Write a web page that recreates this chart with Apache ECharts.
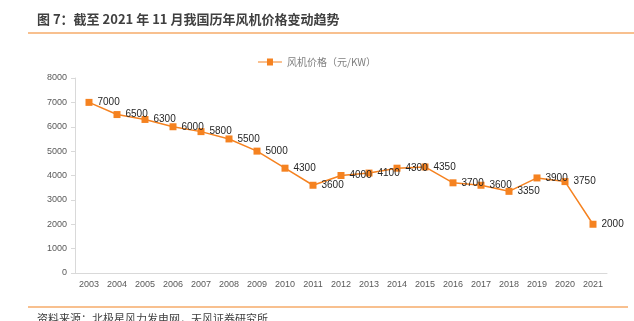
<!DOCTYPE html>
<html><head><meta charset="utf-8">
<script src="https://cdn.jsdelivr.net/npm/echarts@6/dist/echarts.min.js"></script>
<style>html,body{margin:0;padding:0;background:#fff}#c{width:634px;height:321px}</style>
</head><body><div id="c"></div>
<script>
const years = ['2003','2004','2005','2006','2007','2008','2009','2010','2011','2012','2013','2014','2015','2016','2017','2018','2019','2020','2021'];
const prices = [7000,6500,6300,6000,5800,5500,5000,4300,3600,4000,4100,4300,4350,3700,3600,3350,3900,3750,2000];
const seriesName = '风机价格（元/KW）';
const titleText = '图 7：截至 2021 年 11 月我国历年风机价格变动趋势';
const sourceText = '资料来源：北极星风力发电网，天风证券研究所';
const chart = echarts.init(document.getElementById('c'));
const font = '"Liberation Sans", "Noto Sans CJK SC", sans-serif';
chart.setOption({
  animation:false,
  textStyle:{fontFamily:font},
  graphic:[
    {type:'text',left:37,top:13,style:{text:titleText,font:'bold 13px "Noto Sans CJK SC", sans-serif',fill:'#404040'}},
    {type:'rect',shape:{x:28,y:32,width:606,height:2},style:{fill:'#f8c08f'}},
    {type:'rect',shape:{x:28,y:306,width:600,height:2},style:{fill:'#f8c08f'}},
    {type:'text',left:37,top:313,style:{text:sourceText,font:'11px "Noto Sans CJK SC", sans-serif',fill:'#404040'}}
  ],
  legend:{top:52,left:'center',itemWidth:24,itemHeight:7,icon:'path://M0,3L9,3L9,0L15,0L15,3L24,3L24,4L15,4L15,7L9,7L9,4L0,4Z',
    textStyle:{fontSize:10,color:'#7f7f7f',fontFamily:'"Noto Sans CJK SC", sans-serif'},data:[seriesName]},
  grid:{left:75,right:27,top:78,bottom:48},
  xAxis:{type:'category',data:years,boundaryGap:true,
    axisLine:{lineStyle:{color:'#d9d9d9'}},axisTick:{show:false},
    axisLabel:{fontSize:9,color:'#595959',margin:7,interval:0}},
  yAxis:{type:'value',min:0,max:8000,interval:1000,
    axisLine:{show:true,lineStyle:{color:'#d9d9d9'}},axisTick:{show:true,length:4,lineStyle:{color:'#d9d9d9'}},
    splitLine:{show:false},axisLabel:{fontSize:9,color:'#595959',margin:8,formatter:v=>String(v)}},
  series:[{name:seriesName,type:'line',data:prices,symbol:'rect',symbolSize:7,
    lineStyle:{color:'#f58220',width:1.5},itemStyle:{color:'#f58220'},
    label:{show:true,position:'right',distance:5,fontSize:10,color:'#262626'}}]
});
</script></body></html>
